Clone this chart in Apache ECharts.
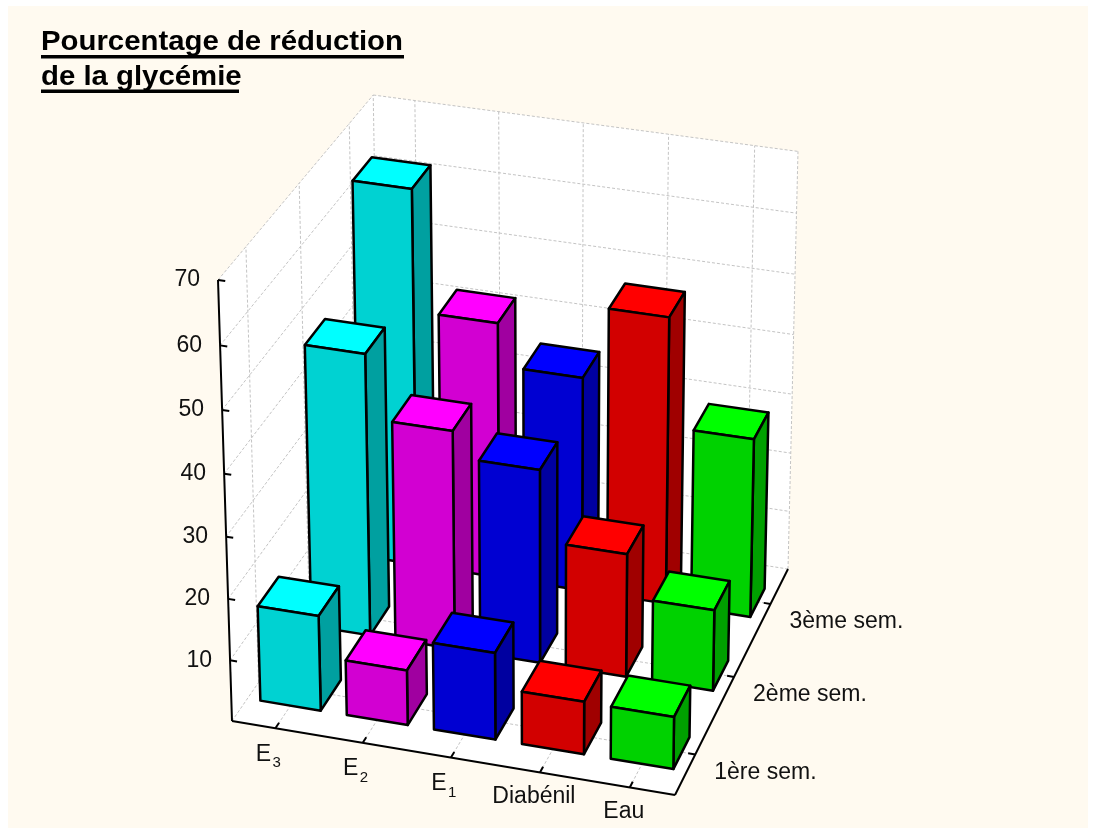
<!DOCTYPE html>
<html><head><meta charset="utf-8"><style>html,body{margin:0;padding:0;background:#fff}#c{width:1096px;height:832px}</style>
<script src="https://cdn.jsdelivr.net/npm/echarts@6/dist/echarts.min.js"></script></head>
<body><div id="c"></div><script>
const categories = ['E3','E2','E1','Diabénil','Eau'];
const weeks = ['1ère sem.','2ème sem.','3ème sem.'];
const valueTicks = [10,20,30,40,50,60,70];
const week1 = [15.6,9,14.2,8.6,8.5];
const week2 = [46.6,36.2,32,20.4,13.4];
const week3 = [63,43,36,48,30];
const faceColors = ['#00D2D2','#D200D2','#0000D2','#D20000','#00D200'];
const topColors = ['#00FFFF','#FF00FF','#0000FF','#FF0000','#00FF00'];
const sideColors = ['#00A0A0','#A000A0','#0000A0','#A00000','#00A000'];
const FONT = 'Liberation Sans, Arial, sans-serif';

// projective camera fitted to the box corners of the picture
const A=[232,721],B=[675,795],C=[788,569],D=[380,506],At=[218,280],Dt=[374,95];
const xMin=-0.5,xMax=4.5,yMin=-0.5,yMax=2.5,zMin=0,zMax=70;
const dx1=B[0]-C[0],dx2=D[0]-C[0],sx=A[0]-B[0]+C[0]-D[0];
const dy1=B[1]-C[1],dy2=D[1]-C[1],sy=A[1]-B[1]+C[1]-D[1];
const det=dx1*dy2-dx2*dy1;
const g=(sx*dy2-dx2*sy)/det,h=(dx1*sy-sx*dy1)/det;
const ax=B[0]-A[0]+g*B[0],bx=D[0]-A[0]+h*D[0];
const ay=B[1]-A[1]+g*B[1],by=D[1]-A[1]+h*D[1];
const iw=(Dt[1]*(1+h)-by-At[1])/(At[1]-Dt[1])*1;
const kx=At[0]*(1+iw)-A[0],ky=At[1]*(1+iw)-A[1];
function P(x,y,z){
  const u=(x-xMin)/(xMax-xMin),v=(y-yMin)/(yMax-yMin),t=(z-zMin)/(zMax-zMin);
  const w=g*u+h*v+iw*t+1;
  return [(ax*u+bx*v+kx*t+A[0])/w,(ay*u+by*v+ky*t+A[1])/w];
}
const halfX=0.35,halfY=0.2;
const poly=(pts,fill)=>({type:'polygon',shape:{points:pts},style:{fill,stroke:'#000',lineWidth:2.5,lineJoin:'round'}});
const seg=(a,b,stroke,lineWidth,dash)=>({type:'polyline',shape:{points:[a,b]},style:{stroke,lineWidth,lineDash:dash||'solid',fill:'none'}});
const txt=(text,x,y,align,extra)=>({type:'text',style:Object.assign({text,x,y,align:align,verticalAlign:'middle',fontSize:23,fontFamily:FONT,fill:'#111'},extra||{})});

function renderBox(){
  const ch=[];
  const wall=(pts)=>ch.push({type:'polygon',shape:{points:pts},style:{fill:'#fff',stroke:null}});
  wall([P(xMin,yMin,zMin),P(xMax,yMin,zMin),P(xMax,yMax,zMin),P(xMin,yMax,zMin)]);
  wall([P(xMin,yMin,zMin),P(xMin,yMax,zMin),P(xMin,yMax,zMax),P(xMin,yMin,zMax)]);
  wall([P(xMin,yMax,zMin),P(xMax,yMax,zMin),P(xMax,yMax,zMax),P(xMin,yMax,zMax)]);
  const dash=[3,2],gc='#c4c4c4';
  valueTicks.forEach(z=>{
    ch.push(seg(P(xMin,yMin,z),P(xMin,yMax,z),gc,1,dash));
    ch.push(seg(P(xMin,yMax,z),P(xMax,yMax,z),gc,1,dash));
  });
  categories.forEach((c,i)=>{
    ch.push(seg(P(i,yMin,zMin),P(i,yMax,zMin),gc,1,dash));
    ch.push(seg(P(i,yMax,zMin),P(i,yMax,zMax),gc,1,dash));
  });
  weeks.forEach((c,j)=>{
    ch.push(seg(P(xMin,j,zMin),P(xMax,j,zMin),gc,1,dash));
    ch.push(seg(P(xMin,j,zMin),P(xMin,j,zMax),gc,1,dash));
  });
  ch.push(seg(P(xMin,yMax,zMin),P(xMin,yMax,zMax),gc,1,dash));
  ch.push(seg(P(xMax,yMax,zMin),P(xMax,yMax,zMax),gc,1,dash));
  ch.push(seg(P(xMin,yMin,zMin),P(xMin,yMax,zMin),gc,1,dash));
  ch.push(seg(P(xMin,yMax,zMin),P(xMax,yMax,zMin),gc,1,dash));
  return {type:'group',children:ch};
}
function renderAxes(){
  const ch=[];
  const k='#000';
  ch.push(seg(P(xMin,yMin,zMax),P(xMin,yMin,zMin),k,2));
  ch.push(seg(P(xMin,yMin,zMin),P(xMax,yMin,zMin),k,2));
  ch.push(seg(P(xMax,yMin,zMin),P(xMax,yMax,zMin),k,2));
  valueTicks.forEach(z=>{
    const p=P(xMin,yMin,z);
    ch.push(seg(p,P(xMin+0.08,yMin,z),k,2));
    ch.push(txt(String(z),p[0]-18,p[1],'right'));
  });
  categories.forEach((c,i)=>{
    const p=P(i,yMin,zMin);
    ch.push(seg(p,P(i,yMin+0.07,zMin),k,2));
    const m=/^E(\d)$/.exec(c);
    if(m){
      ch.push(txt('E',p[0]-12,p[1]+26,'center'));
      ch.push(txt(m[1],p[0]-3,p[1]+35,'left',{fontSize:15}));
    } else {
      ch.push(txt(c,p[0]-6,p[1]+24,'center'));
    }
  });
  weeks.forEach((c,j)=>{
    const p=P(xMax,j,zMin);
    ch.push(seg(p,P(xMax-0.08,j,zMin),k,2));
    ch.push(txt(c,p[0]+19,p[1]+18,'left'));
  });
  return {type:'group',children:ch};
}
function renderBar(params,api){
  const i=api.value(0),j=api.value(1),v=api.value(2);
  const x0=i-halfX,x1=i+halfX,y0=j-halfY-0.01,y1=j+halfY-0.01;
  return {type:'group',children:[
    poly([P(x0,y0,v),P(x1,y0,v),P(x1,y1,v),P(x0,y1,v)],topColors[i]),
    poly([P(x1,y0,0),P(x1,y1,0),P(x1,y1,v),P(x1,y0,v)],sideColors[i]),
    poly([P(x0,y0,0),P(x1,y0,0),P(x1,y0,v),P(x0,y0,v)],faceColors[i])
  ]};
}
const barSeries=(name,j,vals)=>({type:'custom',name,coordinateSystem:'none',renderItem:renderBar,silent:true,
  data:vals.map((v,i)=>[i,j,v])});
const chart=echarts.init(document.getElementById('c'),null,{renderer:'canvas'});
chart.setOption({
  animation:false,
  backgroundColor:'#fff',
  graphic:[
    {type:'rect',z:-10,silent:true,shape:{x:8,y:6,width:1080,height:822},style:{fill:'#FFFAF0'}},
    {type:'text',silent:true,x:41,y:25,scaleX:1.048,style:{text:'Pourcentage de réduction\nde la glycémie',fontFamily:FONT,fontSize:28,fontWeight:'bold',fill:'#000',lineHeight:35,align:'left',verticalAlign:'top'}},
    {type:'rect',silent:true,shape:{x:41,y:55,width:363,height:3.5},style:{fill:'#000'}},
    {type:'rect',silent:true,shape:{x:41,y:89.5,width:198,height:3.5},style:{fill:'#000'}}
  ],
  series:[
    {type:'custom',name:'box',coordinateSystem:'none',renderItem:renderBox,silent:true,data:[[0]]},
    barSeries(weeks[2],2,week3),
    barSeries(weeks[1],1,week2),
    barSeries(weeks[0],0,week1),
    {type:'custom',name:'axes',coordinateSystem:'none',renderItem:renderAxes,silent:true,data:[[0]],z:3}
  ]
});
</script></body></html>
